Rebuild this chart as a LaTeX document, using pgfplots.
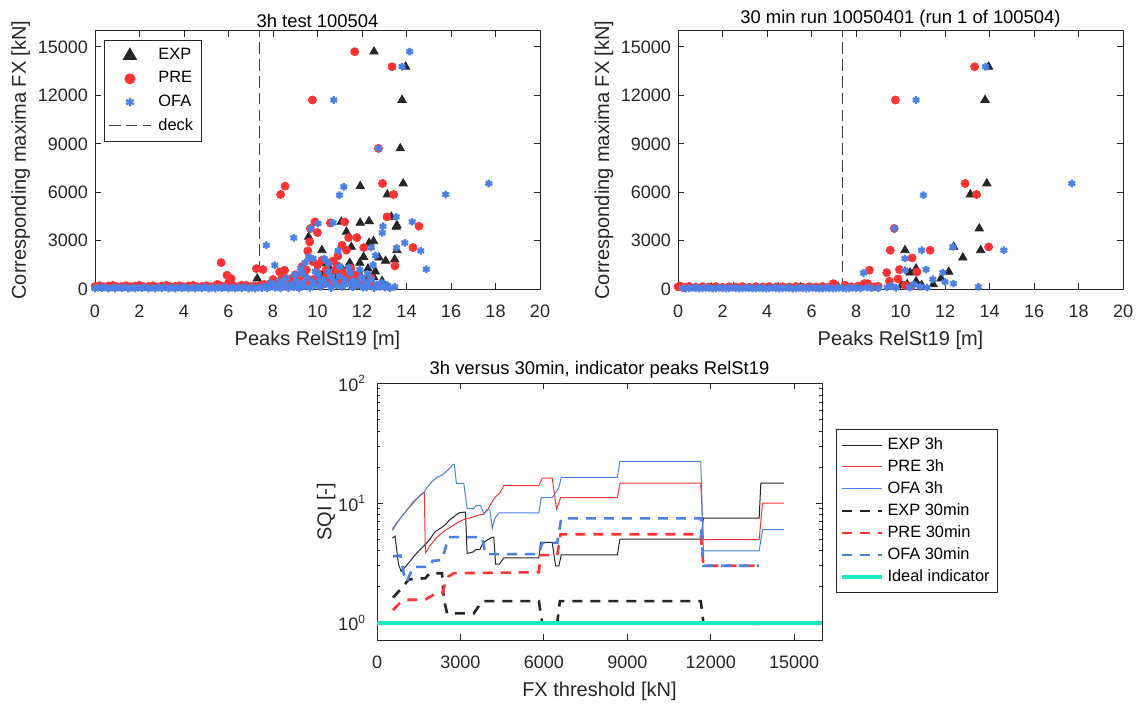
\documentclass[border=0pt]{standalone}
\usepackage{fontspec}
\setmainfont{Liberation Sans}
\usepackage{pgfplots}
\pgfplotsset{compat=1.18}
\definecolor{cexp}{rgb}{0.15,0.15,0.15}
\definecolor{cpre}{rgb}{1,0.2,0.2}
\definecolor{cofa}{rgb}{0.3,0.5,0.9}
\definecolor{cideal}{rgb}{0.1,0.92,0.78}
\definecolor{caxis}{rgb}{0.15,0.15,0.15}
\pgfplotsset{
  common/.style={
    scale only axis, width=222.5pt,
    scaled ticks=false,
    /pgf/number format/1000 sep={},
    /pgf/number format/assume math mode=true,
    tick align=inside,
    major tick length=3pt, minor tick length=1.6pt,
    axis line style={caxis, line width=0.4pt},
    tick style={caxis, line width=0.4pt},
    tick label style={font=\fontsize{9}{10.5}\selectfont, text=caxis},
    xticklabel style={yshift=-4.2pt},
    label style={font=\fontsize{10}{12}\selectfont, text=caxis},
    title style={font=\fontsize{9.2}{11}\selectfont, text=black},
  },
  myscat/.style={
    common, height=129.3pt,
    xmin=0, xmax=20, ymin=0, ymax=16000,
    xtick={0,2,...,20}, ytick={0,3000,...,15000},
    clip=false,
    xlabel={Peaks RelSt19 [m]},
    ylabel={Corresponding maxima FX [kN]},
    ylabel style={yshift=-3pt},
    title style={yshift=-8pt},
  },
  pexp/.style={only marks, mark=triangle*, mark size=2.4pt, color=cexp,
    legend image code/.code={\draw[##1, mark size=3.7pt] plot coordinates {(10.5pt,0pt)};}},
  ppre/.style={only marks, mark=*, mark size=2pt, color=cpre,
    legend image code/.code={\draw[##1, mark size=2.5pt] plot coordinates {(10.5pt,0pt)};}},
  pofa/.style={only marks, mark=asterisk, mark size=1.9pt, color=cofa, line width=1.15pt,
    legend image code/.code={\draw[##1, mark size=2.2pt] plot coordinates {(10.5pt,0pt)};}},
  pdeck/.style={no marks, color=black!75, line width=0.5pt, dash pattern=on 5.8pt off 2.6pt,
    legend image code/.code={\draw[##1] (0pt,0pt) -- (21pt,0pt);}},
}
\begin{document}
\begin{tikzpicture}
\useasboundingbox (0,0) rectangle (569pt,352pt);
% ---------------- top left
\begin{axis}[myscat, at={(47.5pt,207.35pt)}, anchor=south west,
  title={3h test 100504},
  legend style={at={(0.02,0.964)}, anchor=north west, draw=caxis, line width=0.5pt,
    font=\fontsize{8.2}{9.5}\selectfont, row sep=0.45pt, inner sep=2pt,
    /tikz/every odd column/.append style={column sep=1.5pt}},
  legend cell align=left]
\addplot[pexp] coordinates {
(12.54,14700)(13.96,13770)(13.80,11710)(13.72,8715)(13.85,6546)(11.92,6380)(13.14,5865)(13.32,4480)
(13.54,3860)(13.57,3965)(11.92,4110)(12.32,4210)(11.30,3550)(11.07,4170)(9.60,3240)(10.20,2415)
(11.52,2620)(12.32,2870)(12.52,2970)(12.07,2000)(12.76,1960)(13.06,1755)(13.47,1840)(13.57,2415)
(11.45,1630)(11.10,1280)(11.90,1630)(12.27,1280)(11.45,970)(11.74,660)(11.97,760)(11.37,1380)
(11.74,350)(12.20,660)(12.52,760)(12.34,250)(11.82,145)(10.40,1590)(10.55,1280)(10.25,970)
(10.10,660)(10.85,660)(11.15,350)(10.77,1075)(9.35,970)(9.05,350)(8.60,145)(7.29,660)
(12.60,1100)(12.9,500)(13.0,250)(12.1,450)(11.6,200)(10.6,300)(9.9,500)(9.6,200)(8.2,250)(7.8,150)
(0.1,80)(0.6,100)(1.2,90)(1.8,110)(2.4,95)(3.0,120)(3.6,100)(4.2,130)(4.8,110)(5.4,140)(6.0,120)(6.6,150)(7.1,130)
};
\addlegendentry{EXP}
\addplot[ppre] coordinates {
(11.67,14700)(13.35,13770)(9.77,11710)(12.74,8715)(8.54,6380)(8.34,5865)(12.92,6546)(13.42,5865)
(13.12,4480)(14.56,3900)(14.29,2580)(13.48,1445)(11.22,4170)(10.58,4110)(9.88,4170)(10.00,3510)
(9.68,3760)(9.65,2930)(9.56,2375)(11.77,3200)(11.40,3200)(12.08,2580)(11.10,2725)(11.30,2415)
(10.92,2065)(5.67,1650)(5.93,870)(6.12,660)(7.25,1280)(7.55,1220)(8.30,1075)(8.52,1180)
(8.0,600)(8.4,700)(8.8,650)(9.0,900)(9.3,1400)(9.5,1200)(9.8,1700)(10.0,1500)(10.2,1800)(10.4,1200)
(10.7,1750)(10.9,1450)(11.1,1100)(11.3,800)(11.5,1300)(11.8,900)(12.0,600)(9.2,500)(9.6,300)
(10.3,400)(10.8,350)(11.6,450)(12.4,300)(7.8,300)(8.6,250)(6.0,400)(6.6,250)(5.5,300)
(7.6,300)(7.8,180)(8.0,450)(8.2,250)(8.4,600)(8.6,200)(8.8,380)(9.0,700)(9.2,250)(9.4,900)(9.6,400)
(9.8,600)(10.0,1000)(10.2,300)(10.4,800)(10.6,500)(10.8,1200)(11.0,350)(11.2,700)(11.4,450)
(11.6,900)(11.8,300)(12.0,550)(12.2,250)(12.4,700)(12.6,200)
(0.0,170)(0.2,220)(0.4,150)(0.6,200)(0.8,240)(1.0,160)(1.2,170)(1.4,220)(1.6,150)(1.8,200)
(2.0,240)(2.2,160)(2.4,170)(2.6,220)(2.8,150)(3.0,200)(3.2,240)(3.4,160)(3.6,170)(3.8,220)
(4.0,150)(4.2,200)(4.4,240)(4.6,160)(4.8,170)(5.0,220)(5.2,150)(5.4,200)(5.6,240)(5.8,160)
(6.0,170)(6.2,220)(6.4,150)(6.6,200)(6.8,240)(7.0,160)(7.2,170)(7.4,220)
};
\addlegendentry{PRE}
\addplot[pofa] coordinates {
(14.14,14700)(13.80,13770)(10.73,11710)(12.74,8715)(11.18,6340)(10.99,5825)(15.76,5865)(17.70,6546)
(13.54,4480)(14.26,4170)(10.02,4070)(10.70,4110)(12.94,3900)(12.91,3490)(13.92,2870)(13.55,2560)
(14.64,2375)(14.89,1240)(8.93,3180)(7.70,2725)(8.08,1490)(9.71,3760)(10.92,2375)(12.42,2580)
(12.61,2100)(13.47,145)(12.80,250)
(9.6,2000)(9.45,1650)(9.25,1300)(10.3,1900)(10.4,1750)(11.0,1400)(11.4,1350)(11.9,1200)(12.25,950)
(12.5,1500)(12.0,700)(11.6,500)(9.0,900)(8.6,700)(8.3,500)(7.9,400)(10.6,800)(11.2,300)(12.9,200)
(12.2,100)(9.9,1100)(10.1,600)(8.8,300)(9.8,1900)(10.5,1600)(9.3,1000)
(0.00,50)(0.15,110)(0.30,70)(0.45,130)(0.60,40)(0.75,100)(0.90,50)(1.05,110)(1.20,70)(1.35,130)
(1.50,40)(1.65,100)(1.80,50)(1.95,110)(2.10,70)(2.25,130)(2.40,40)(2.55,100)(2.70,50)(2.85,110)
(3.00,70)(3.15,130)(3.30,40)(3.45,100)(3.60,50)(3.75,110)(3.90,70)(4.05,130)(4.20,40)(4.35,100)
(4.50,50)(4.65,110)(4.80,70)(4.95,130)(5.10,40)(5.25,100)(5.40,50)(5.55,110)(5.70,70)(5.85,130)
(6.00,40)(6.15,100)(6.30,50)(6.45,110)(6.60,70)(6.75,130)(6.90,40)(7.05,100)(7.20,50)(7.35,110)
(7.50,80)(7.62,200)(7.74,60)(7.86,150)(7.98,300)(8.10,90)(8.22,220)(8.34,50)(8.46,400)(8.58,150)
(8.70,80)(8.82,260)(8.94,120)(9.06,500)(9.18,60)(9.30,350)(9.42,180)(9.54,700)(9.66,90)(9.78,450)
(9.90,250)(10.02,900)(10.14,150)(10.26,600)(10.38,300)(10.50,1100)(10.62,80)(10.74,500)(10.86,250)
(10.98,800)(11.10,150)(11.22,600)(11.34,350)(11.46,1000)(11.58,120)(11.70,450)(11.82,250)
(11.94,700)(12.06,100)(12.18,400)(12.30,200)(12.42,600)(12.54,80)(12.66,300)(12.78,150)
(12.90,400)(13.02,100)(13.14,250)(13.26,60)
};
\addlegendentry{OFA}
\addplot[pdeck] coordinates {(7.4,0)(7.4,16000)};
\addlegendentry{deck}
\end{axis}
% ---------------- top right
\begin{axis}[myscat, at={(339pt,207.35pt)}, anchor=south west,
  title={30 min run 10050401 (run 1 of 100504)}]
\addplot[pexp] coordinates {
(13.96,13770)(13.80,11710)(13.88,6546)(13.14,5865)(13.54,3760)(13.60,2415)(12.39,2620)(12.80,1960)
(12.17,1075)(11.82,660)(10.20,2415)(10.70,1280)(10.43,1030)(10.70,495)(10.95,250)(11.47,300)
(10.30,300)(10.05,250)(9.5,150)(8.9,100)(7.6,120)
(0.5,90)(1.5,100)(2.5,110)(3.5,100)(4.5,120)(5.5,110)(6.5,130)(7.2,140)
};
\addplot[ppre] coordinates {
(13.33,13770)(9.77,11710)(12.90,6546)(13.42,5865)(9.72,3760)(9.54,2415)(11.33,2415)(10.52,1940)
(13.96,2620)(8.60,1180)(9.38,1030)(9.95,1220)(10.74,1075)(9.89,640)(9.50,495)(8.37,350)(8.52,350)
(6.98,350)(7.5,250)(10.2,250)(10.5,200)(8.1,200)(8.8,150)
(0.0,150)(0.1,200)(0.3,120)(0.5,180)(0.8,130)(1.1,160)(1.4,140)(1.7,170)(2.0,130)(2.3,160)
(2.6,140)(2.9,170)(3.2,130)(3.5,160)(3.8,140)(4.1,170)(4.4,130)(4.7,160)(5.0,140)(5.3,170)
(5.6,130)(5.9,160)(6.2,140)(6.5,170)(6.8,150)(7.1,180)(7.8,150)(8.3,200)(9.0,180)
};
\addplot[pofa] coordinates {
(13.82,13770)(10.70,11710)(11.03,5825)(17.70,6546)(9.72,3760)(10.95,2415)(12.35,2620)(14.64,2415)
(10.20,1900)(8.34,1010)(10.20,1180)(11.15,1220)(11.90,1030)(11.45,620)(12.00,455)(12.38,350)
(13.50,145)(8.5,100)(9.0,80)(9.4,120)(9.8,90)(10.4,100)(10.9,150)(11.2,100)(10.6,300)(9.6,200)
(0.2,70)(0.35,50)(0.5,60)(0.65,90)(0.8,80)(0.95,50)(1.1,65)(1.25,95)(1.4,75)(1.55,45)(1.7,60)
(1.85,90)(2.0,80)(2.15,50)(2.3,65)(2.45,95)(2.6,75)(2.75,45)(2.9,60)(3.05,90)(3.2,80)(3.35,50)
(3.5,65)(3.65,95)(3.8,75)(3.95,45)(4.1,60)(4.25,90)(4.4,80)(4.55,50)(4.7,65)(4.85,95)(5.0,75)
(5.15,45)(5.3,60)(5.45,90)(5.6,80)(5.75,50)(5.9,65)(6.05,95)(6.2,75)(6.35,45)(6.5,60)(6.65,90)
(6.8,80)(6.95,50)(7.1,65)(7.25,95)(7.4,75)(7.55,45)(7.7,60)(7.85,90)(8.0,80)(8.2,50)(8.7,70)
};
\addplot[pdeck] coordinates {(7.4,0)(7.4,16000)};
\end{axis}
% ---------------- bottom
\begin{axis}[common, height=128.3pt, at={(188.5pt,32pt)}, anchor=south west,
  ymode=log, xmin=0, xmax=16000, ymin=0.72, ymax=100,
  xtick={0,3000,...,15000}, ytick={1,10,100},
  yticklabels={10\textsuperscript{0},10\textsuperscript{1},10\textsuperscript{2}},
  yticklabel style={xshift=-2pt},
  title={3h versus 30min, indicator peaks RelSt19},
  title style={yshift=-7pt},
  xlabel={FX threshold [kN]}, ylabel={SQI [-]},
  ylabel style={yshift=-5.5pt},
  legend style={at={(1.031,0.822)}, anchor=north west, draw=caxis, line width=0.5pt,
    font=\fontsize{8.2}{9.5}\selectfont, row sep=-0.45pt, inner sep=2pt},
  legend cell align=left,
  legend image code/.code={\draw[#1] (0pt,0pt) -- (20pt,0pt);}]
\addplot[cexp, line width=0.5pt] coordinates {
(554,5.1)(650,5.3)(771,3.1)(867,2.7)(1000,2.9)(1200,3.3)(1373,3.7)(1550,4.1)(1735,4.5)(1900,5.0)
(2096,5.8)(2300,6.2)(2457,6.6)(2600,7.2)(2758,7.7)(2950,8.3)(3119,8.4)(3180,8.4)(3240,3.8)(3450,3.9)
(3550,4.1)(3700,4.1)(3800,4.6)(3950,4.9)(4144,5.2)(4200,5.2)(4264,3.1)(4400,3.1)(4565,3.5)(5820,3.5)
(5880,4.7)(6300,4.7)(6420,3.0)(6540,3.0)(6624,3.7)(8640,3.7)(8736,5.0)(11640,5.0)(11736,7.5)
(13740,7.5)(13800,14.7)(14640,14.7)};
\addlegendentry{EXP 3h}
\addplot[cpre, line width=0.5pt] coordinates {
(554,6.1)(700,6.8)(900,7.8)(1100,8.9)(1300,10.2)(1500,11.3)(1656,12.2)(1700,12.3)(1740,3.85)
(1900,4.4)(2160,5.2)(2400,5.8)(2640,6.3)(2900,6.9)(3120,7.3)(3400,7.6)(3700,8.0)(3840,8.05)
(4000,9.0)(4080,9.7)(4224,11.1)(4400,12.0)(4560,14.0)(5820,14.0)(5940,16.2)(6300,16.2)(6400,11)
(6456,8.95)(6600,11.1)(8640,11.1)(8736,14.7)(11640,14.7)(11736,4.97)(13740,4.97)(13860,10)(14640,10)};
\addlegendentry{PRE 3h}
\addplot[cofa, line width=0.5pt] coordinates {
(554,5.9)(700,6.7)(900,7.8)(1100,8.9)(1300,10.0)(1500,11.3)(1675,12.2)(1800,13.5)(1976,15.1)
(2160,16.5)(2337,17.1)(2518,18.6)(2650,20.0)(2722,21.1)(2780,21.1)(2855,14.6)(3120,14.6)(3240,9.0)
(3480,9.0)(3560,9.6)(3720,9.6)(3842,8.2)(3950,8.8)(4060,8.8)(4144,6.15)(4240,7.45)(4385,8.3)
(5820,8.3)(5904,11.1)(6300,11.1)(6400,12)(6540,13.5)(6624,16.4)(8640,16.4)(8736,22.3)(11640,22.3)
(11736,4.0)(13740,4.0)(13860,6.0)(14640,6.0)};
\addlegendentry{OFA 3h}
\addplot[cexp, line width=1.3pt, dash pattern=on 5pt off 4pt] coordinates {
(576,1.63)(700,1.75)(960,2.04)(1140,2.31)(1735,2.36)(1900,2.6)(2337,2.6)(2400,1.6)(2520,1.2)
(3480,1.2)(3783,1.52)(5820,1.52)(5940,1.0)(6480,1.0)(6576,1.52)(11640,1.52)(11736,1.0)(13740,0.98)};
\addlegendentry{EXP 30min}
\addplot[cpre, line width=1.3pt, dash pattern=on 5pt off 4pt] coordinates {
(576,1.28)(800,1.45)(1072,1.56)(1735,1.56)(1800,1.6)(2096,1.75)(2337,1.75)(2457,2.14)(2578,2.45)
(2758,2.6)(5820,2.65)(5880,3.68)(6480,3.68)(6600,5.5)(11640,5.5)(11736,3.0)(13740,3.0)};
\addlegendentry{PRE 30min}
\addplot[cofa, line width=1.3pt, dash pattern=on 5pt off 4pt] coordinates {
(576,3.6)(850,3.65)(960,2.6)(1072,2.2)(1200,2.6)(1300,2.94)(1900,2.94)(2000,3.3)(2337,3.35)
(2457,4.19)(2578,5.2)(3780,5.2)(3900,3.75)(5820,3.75)(5940,4.66)(6480,4.66)(6624,7.46)(11640,7.46)
(11736,3.0)(13740,3.0)};
\addlegendentry{OFA 30min}
\addplot[cideal, line width=1.6pt] coordinates {(0,1)(16000,1)};
\addlegendentry{Ideal indicator}
\end{axis}
\end{tikzpicture}
\end{document}
